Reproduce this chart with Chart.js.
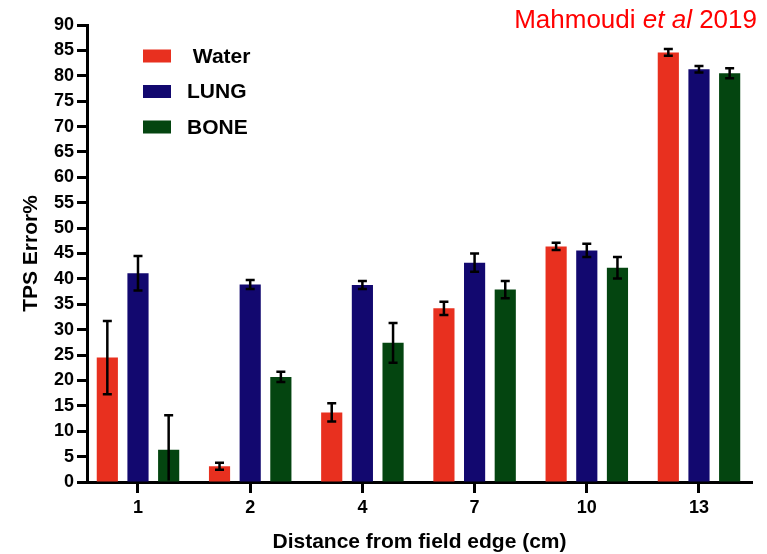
<!DOCTYPE html>
<html>
<head>
<meta charset="utf-8">
<script src="https://cdn.jsdelivr.net/npm/chart.js@4.4.1/dist/chart.umd.min.js"></script>
<style>
  html, body { margin: 0; padding: 0; background: #ffffff; }
  #wrap { width: 767px; height: 554px; position: relative; }
</style>
</head>
<body>
<div id="wrap"><canvas id="c"></canvas></div>
<script>
const categories = ['1', '2', '4', '7', '10', '13'];
const seriesLabels = [' Water', 'LUNG', 'BONE'];
const waterValues = [24.5, 3.1, 13.7, 34.2, 46.4, 84.6];
const lungValues  = [41.1, 38.9, 38.8, 43.2, 45.6, 81.3];
const boneValues  = [6.35, 20.7, 27.4, 37.9, 42.2, 80.5];
const waterErrors = [7.2, 0.7, 1.8, 1.3, 0.7, 0.65];
const lungErrors  = [3.4, 0.9, 0.8, 1.8, 1.3, 0.65];
const boneErrors  = [6.8, 1.0, 3.9, 1.7, 2.1, 1.0];
const yMin = 0, yMax = 90, yStep = 5;
const sourceNote = ['Mahmoudi ', 'et al', ' 2019'];

const FONT = "'Liberation Sans', Arial, Helvetica, sans-serif";
const colors = ['#E8301F', '#12086F', '#044510'];
const errorSets = [waterErrors, lungErrors, boneErrors];

const errorBars = {
  id: 'errorBars',
  afterDatasetsDraw(chart) {
    const ctx = chart.ctx;
    const yS = chart.scales.y;
    const area = chart.chartArea;
    ctx.save();
    ctx.beginPath();
    ctx.rect(area.left, area.top - 2, area.right - area.left, area.bottom - area.top + 0.5);
    ctx.clip();
    ctx.strokeStyle = '#000';
    ctx.lineWidth = 2.5;
    chart.data.datasets.forEach((ds, i) => {
      const meta = chart.getDatasetMeta(i);
      const errs = errorSets[i];
      meta.data.forEach((el, j) => {
        const v = ds.data[j], e = errs[j];
        const x = el.x;
        const yt = yS.getPixelForValue(v + e);
        const yb = yS.getPixelForValue(v - e);
        const cap = 4.5;
        ctx.beginPath();
        ctx.moveTo(x, yt); ctx.lineTo(x, yb);
        ctx.moveTo(x - cap, yt); ctx.lineTo(x + cap, yt);
        ctx.moveTo(x - cap, yb); ctx.lineTo(x + cap, yb);
        ctx.stroke();
      });
    });
    ctx.restore();
  }
};

const innerLegend = {
  id: 'innerLegend',
  afterDraw(chart) {
    const ctx = chart.ctx;
    const area = chart.chartArea;
    const x0 = area.left + 56;
    const y0 = area.top + 31;
    const gap = 35.5;
    ctx.save();
    ctx.font = 'bold 21px ' + FONT;
    ctx.textBaseline = 'middle';
    ctx.textAlign = 'left';
    chart.data.datasets.forEach((ds, i) => {
      const cy = y0 + i * gap;
      ctx.fillStyle = ds.backgroundColor;
      ctx.fillRect(x0, cy - 6.5, 28, 13);
      ctx.fillStyle = '#000';
      ctx.fillText(ds.label, x0 + 44, cy + 1);
    });
    ctx.restore();
  }
};

const sourceTitle = {
  id: 'sourceTitle',
  afterDraw(chart) {
    const ctx = chart.ctx;
    ctx.save();
    ctx.fillStyle = '#FF0000';
    ctx.textBaseline = 'alphabetic';
    ctx.textAlign = 'left';
    const fonts = ['26px ' + FONT, 'italic 26px ' + FONT, '26px ' + FONT];
    let total = 0;
    sourceNote.forEach((t, i) => { ctx.font = fonts[i]; total += ctx.measureText(t).width; });
    let x = chart.width - 10 - total;
    sourceNote.forEach((t, i) => {
      ctx.font = fonts[i];
      ctx.fillText(t, x, 28);
      x += ctx.measureText(t).width;
    });
    ctx.restore();
  }
};

const values = [waterValues, lungValues, boneValues];
new Chart(document.getElementById('c'), {
  type: 'bar',
  data: {
    labels: categories,
    datasets: seriesLabels.map((lab, i) => ({
      label: lab,
      data: values[i],
      backgroundColor: colors[i],
      borderWidth: 0,
      categoryPercentage: 0.82,
      barPercentage: 0.69
    }))
  },
  options: {
    responsive: true,
    maintainAspectRatio: false,
    animation: false,
    layout: { padding: { left: 0, right: 15, top: 25, bottom: 0 } },
    plugins: {
      legend: { display: false },
      title: { display: false },
      tooltip: { enabled: false }
    },
    scales: {
      x: {
        type: 'category',
        offset: true,
        afterBuildTicks(s) {
          if ('_startValue' in s) { s._startValue = -0.4545; s._valueRange = 5.927; }
        },
        afterFit(s) { s.height = 72; },
        grid: { display: true, drawOnChartArea: false, drawTicks: true, offset: false,
                tickLength: 11, tickWidth: 3, tickColor: '#000' },
        border: { display: true, width: 3, color: '#000' },
        ticks: { color: '#000', font: { family: FONT, size: 18, weight: 'bold' }, padding: 4, maxRotation: 0 },
        title: { display: true, text: 'Distance from field edge (cm)', color: '#000',
                 font: { family: FONT, size: 21, weight: 'bold' }, padding: { top: 0, bottom: -1 } }
      },
      y: {
        min: yMin, max: yMax,
        afterFit(s) { s.width = 87; },
        grid: { display: true, drawOnChartArea: false, drawTicks: true,
                tickLength: 10, tickWidth: 3, tickColor: '#000' },
        border: { display: true, width: 3, color: '#000' },
        ticks: { stepSize: yStep, color: '#000', font: { family: FONT, size: 18, weight: 'bold' }, padding: 3 },
        title: { display: true, text: 'TPS Error%', color: '#000',
                 font: { family: FONT, size: 21, weight: 'bold' }, padding: { top: 19, bottom: 0 } }
      }
    }
  },
  plugins: [errorBars, innerLegend, sourceTitle]
});
</script>
</body>
</html>
